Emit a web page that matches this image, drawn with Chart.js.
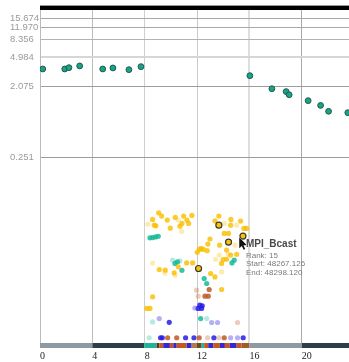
<!DOCTYPE html>
<html>
<head>
<meta charset="utf-8">
<script src="https://cdn.jsdelivr.net/npm/chart.js@4.4.1/dist/chart.umd.min.js"></script>
<style>
  html, body { margin: 0; padding: 0; background: #ffffff; }
  canvas { display: block; }
</style>
</head>
<body>
<canvas id="trace" width="349" height="362"></canvas>
<script>
// Axis ticks
const yTickValues = [15.674, 11.970, 8.356, 4.984, 2.075, 0.251];
const yTickLabels = ['15.674', '11.970', '8.356', '4.984', '2.075', '0.251'];
const xTickValues = [0, 4, 8, 12, 16, 20];

// Per-step totals (time, duration)
const stepPts = [
  [0.21, 3.49], [1.89, 3.49], [2.21, 3.63], [3.03, 3.82], [4.79, 3.49], [5.57, 3.60],
  [6.79, 3.42], [7.71, 3.74], [16.03, 2.86], [17.71, 1.94], [18.80, 1.78], [19.03, 1.62],
  [20.48, 1.36], [21.43, 1.18], [22.04, 0.99], [23.51, 0.95]
];

// Individual calls (time, duration), grouped by function colour
const bcastPts = [
  [9.06, 0.0482], [9.29, 0.0437], [8.60, 0.0396], [8.73, 0.0334], [8.85, 0.0327], [9.72, 0.0388],
  [9.95, 0.0305], [10.33, 0.0420], [10.69, 0.0324], [10.84, 0.0352], [10.97, 0.0437], [11.22, 0.0388],
  [11.35, 0.0352], [11.60, 0.0446], [13.36, 0.0380], [13.66, 0.0437], [14.58, 0.0396], [15.32, 0.0377],
  [15.57, 0.0303], [15.78, 0.0303], [14.07, 0.0261], [14.40, 0.0261], [14.56, 0.0334],
  [12.98, 0.0221], [12.82, 0.0190], [12.31, 0.0167], [12.16, 0.0162], [12.47, 0.0162], [12.01, 0.0149],
  [12.77, 0.0156], [13.72, 0.0184], [14.25, 0.0159], [15.02, 0.0140], [14.56, 0.0137], [14.25, 0.0121],
  [13.99, 0.0120], [13.87, 0.0107], [9.11, 0.00892], [9.56, 0.00874], [10.56, 0.00966], [10.25, 0.00807],
  [11.20, 0.01086], [11.66, 0.01086], [13.03, 0.00792], [13.36, 0.00716], [13.87, 0.00492],
  [8.60, 0.00395], [8.15, 0.00280], [8.40, 0.00280]
];
const bcastFaintPts = [
  [8.24, 0.0344], [10.56, 0.0388], [10.82, 0.0277], [14.07, 0.0352], [15.02, 0.0334], [14.89, 0.0184],
  [13.69, 0.0137], [13.41, 0.0121], [8.60, 0.0108], [9.54, 0.0080], [13.87, 0.00829], [10.31, 0.00753],
  [14.37, 0.0140]
];
const reducePts = [
  [8.40, 0.0229], [8.60, 0.0231], [8.83, 0.0235], [9.03, 0.0240], [14.83, 0.01177], [14.66, 0.01086],
  [10.31, 0.0107], [10.50, 0.0112], [10.84, 0.0087], [12.54, 0.00682], [12.73, 0.00588], [12.27, 0.00207]
];
const reduceFaintPts = [
  [10.13, 0.01177], [10.69, 0.0115], [8.60, 0.00187], [12.73, 0.00207], [8.34, 0.00117]
];
const sendPts = [
  [12.92, 0.00492], [12.60, 0.00403], [12.85, 0.00403], [9.75, 0.00117], [10.44, 0.00117],
  [12.16, 0.00117], [14.07, 0.00117]
];
const sendFaintPts = [
  [12.08, 0.00403], [11.96, 0.00482], [15.09, 0.00184], [12.80, 0.00117], [13.66, 0.00117]
];
const recvPts = [
  [12.21, 0.00308], [12.39, 0.00302], [12.08, 0.00280], [12.34, 0.00280], [9.87, 0.00185],
  [9.21, 0.00117], [9.34, 0.00117], [11.12, 0.00117], [11.76, 0.00117], [13.28, 0.00117], [15.52, 0.00117]
];
const recvFaintPts = [
  [9.11, 0.00207], [13.11, 0.00184], [13.56, 0.00184], [11.83, 0.00283], [14.56, 0.00117], [15.09, 0.00117]
];
// Calls of the selected function across ranks
const selectedPts = [[13.66, 0.0334], [14.40, 0.0202], [15.50, 0.0241], [12.11, 0.00919]];
const selectedIndex = 2;
const tipTitle = 'MPI_Bcast';
const tipLines = ['Rank: 15', 'Start: 48267.126', 'End: 48298.120'];

// Phase strip along the time axis: [start, end, colour]
const phaseSegments = [
  [0, 4, '#8e99a1'], [4, 7.96, '#2f3d48'], [7.96, 8.91, '#1eb598'], [8.91, 9.11, '#5b3a1e'],
  [9.11, 9.41, '#c45a1f'], [9.41, 9.92, '#3427d6'], [9.92, 10.18, '#c45a1f'], [10.18, 10.44, '#3427d6'],
  [10.44, 11.2, '#c45a1f'], [11.2, 11.58, '#3427d6'], [11.58, 11.96, '#b47a4e'], [11.96, 12.34, '#6b4a22'],
  [12.34, 12.54, '#1eb598'], [12.54, 12.85, '#c45a1f'], [12.85, 13.23, '#3427d6'], [13.23, 13.74, '#c45a1f'],
  [13.74, 14.12, '#3427d6'], [14.12, 14.5, '#c45a1f'], [14.5, 15.02, '#3427d6'], [15.02, 15.4, '#c45a1f'],
  [15.4, 15.98, '#a35a2a'], [15.98, 20, '#8e99a1'], [20, 23.6, '#2f3d48']
];

const toXY = pts => pts.map(([x, y]) => ({ x, y }));
const dots = (label, pts, color, r) => ({
  label, data: toXY(pts), backgroundColor: color, borderWidth: 0,
  pointRadius: r, pointHoverRadius: r, pointHoverBorderWidth: 0
});

const yGridColors = ['#a8a8a8', '#a8a8a8', '#b2b2b2', '#d6d6d6', '#9c9c9c', '#9c9c9c'];
const yGridWidths = [1, 1, 1, 2, 1, 1];
const xGridColors = ['#bbbbbb', '#bdbdbd', '#cfcfcf', '#cacaca', '#dedede', '#a9a9a9'];
const xGridWidths = [1, 1, 1, 1, 2, 1];

Chart.Tooltip.positioners.pinned = function (items) {
  if (!items.length) return false;
  const p = items[0].element;
  return { x: p.x + 3, y: p.y + 2.5 };
};

const frame = {
  id: 'frame',
  afterDraw(chart) {
    const { ctx, chartArea: a, scales } = chart;
    ctx.save();
    // overview bar above the plot
    ctx.fillStyle = '#000000';
    ctx.fillRect(a.left, a.top - 4.4, a.right - a.left, 4.4);
    // phase strip under the plot
    phaseSegments.forEach(([s, e, c]) => {
      const x0 = scales.x.getPixelForValue(s);
      const x1 = Math.min(scales.x.getPixelForValue(e), a.right);
      ctx.fillStyle = c;
      ctx.fillRect(x0, a.bottom, x1 - x0, 5);
    });
    // mouse pointer over the selected call
    const el = chart.getDatasetMeta(0).data[selectedIndex];
    if (el) {
      const tx = el.x - 3.7, ty = el.y + 1.2;
      ctx.beginPath();
      ctx.moveTo(tx, ty);
      ctx.lineTo(tx, ty + 11);
      ctx.lineTo(tx + 2.6, ty + 8.6);
      ctx.lineTo(tx + 4.4, ty + 12.4);
      ctx.lineTo(tx + 6, ty + 11.7);
      ctx.lineTo(tx + 4.2, ty + 8);
      ctx.lineTo(tx + 7.6, ty + 8);
      ctx.closePath();
      ctx.fillStyle = '#111111';
      ctx.strokeStyle = '#ffffff';
      ctx.lineWidth = 1;
      ctx.stroke();
      ctx.fill();
    }
    ctx.restore();
  }
};

const chart = new Chart(document.getElementById('trace'), {
  type: 'scatter',
  data: {
    datasets: [
      {
        label: 'selected', data: toXY(selectedPts),
        backgroundColor: 'rgba(249,190,0,0.95)', borderColor: '#3a3a2a', borderWidth: 1.2,
        pointRadius: 3, pointHoverRadius: 3, pointHoverBorderWidth: 1.2
      },
      {
        label: 'steps', data: toXY(stepPts),
        backgroundColor: '#16a589', borderColor: '#24574c', borderWidth: 1,
        pointRadius: 2.9, pointHoverRadius: 2.9, pointHoverBorderWidth: 1
      },
      dots('MPI_Bcast', bcastPts, 'rgba(249,190,0,0.82)', 2.6),
      dots('MPI_Allreduce', reducePts, 'rgba(22,184,152,0.85)', 2.6),
      dots('MPI_Send', sendPts, 'rgba(190,88,36,0.85)', 2.6),
      dots('MPI_Recv', recvPts, 'rgba(40,28,228,0.85)', 2.6),
      dots('MPI_Bcast (other)', bcastFaintPts, 'rgba(249,190,0,0.3)', 2.6),
      dots('MPI_Allreduce (other)', reduceFaintPts, 'rgba(22,184,152,0.3)', 2.6),
      dots('MPI_Send (other)', sendFaintPts, 'rgba(190,88,36,0.3)', 2.6),
      dots('MPI_Recv (other)', recvFaintPts, 'rgba(40,28,228,0.35)', 2.6)
    ]
  },
  options: {
    responsive: false,
    animation: false,
    events: [],
    layout: { autoPadding: false, padding: { top: 10, left: 10, right: 0, bottom: 0 } },
    scales: {
      x: {
        type: 'linear', min: 0, max: 23.6, bounds: 'data',
        afterBuildTicks: s => { s.ticks = xTickValues.map(v => ({ value: v })); },
        afterFit: s => { s.height = 19; s.paddingLeft = 0; s.paddingRight = 0; },
        border: { display: false },
        grid: {
          drawTicks: false,
          color: c => xGridColors[c.index] || '#cccccc',
          lineWidth: c => xGridWidths[c.index] || 1
        },
        ticks: {
          align: 'start', padding: 7, maxRotation: 0, autoSkip: false,
          color: '#1a1a1a',
          font: { family: '"Liberation Serif", "DejaVu Serif", serif', size: 10 }
        }
      },
      y: {
        type: 'logarithmic', min: 0.001, max: 20.2, bounds: 'data',
        afterBuildTicks: s => { s.ticks = yTickValues.map(v => ({ value: v })); },
        afterFit: s => { s.width = 30; s.paddingTop = 0; s.paddingBottom = 0; },
        border: { display: true, color: '#bbbbbb', width: 1 },
        grid: {
          drawTicks: false,
          color: c => yGridColors[c.index] || '#aaaaaa',
          lineWidth: c => yGridWidths[c.index] || 1
        },
        ticks: {
          crossAlign: 'far', padding: 4, autoSkip: false,
          color: '#9a9a9a',
          font: { family: '"Liberation Sans", Arial, sans-serif', size: 9.5 },
          callback: (v, i) => yTickLabels[i]
        }
      }
    },
    plugins: {
      legend: { display: false },
      title: { display: false },
      tooltip: {
        enabled: true,
        position: 'pinned',
        xAlign: 'left', yAlign: 'top',
        caretSize: 0, caretPadding: 0, cornerRadius: 0, padding: 0,
        backgroundColor: 'rgba(255,255,255,0)',
        displayColors: false,
        titleColor: '#4a4a4a',
        titleFont: { family: '"Liberation Sans", Arial, sans-serif', size: 10, weight: 'bold' },
        titleMarginBottom: 1,
        bodyColor: '#7a7a7a',
        bodyFont: { family: '"Liberation Sans", Arial, sans-serif', size: 8, lineHeight: 1.05 },
        bodySpacing: 0,
        animation: false,
        callbacks: {
          title: () => tipTitle,
          label: () => tipLines
        }
      }
    }
  },
  plugins: [frame]
});

const sel = chart.getDatasetMeta(0).data[selectedIndex];
chart.tooltip.setActiveElements([{ datasetIndex: 0, index: selectedIndex }], { x: sel.x, y: sel.y });
chart.update();
</script>
</body>
</html>
